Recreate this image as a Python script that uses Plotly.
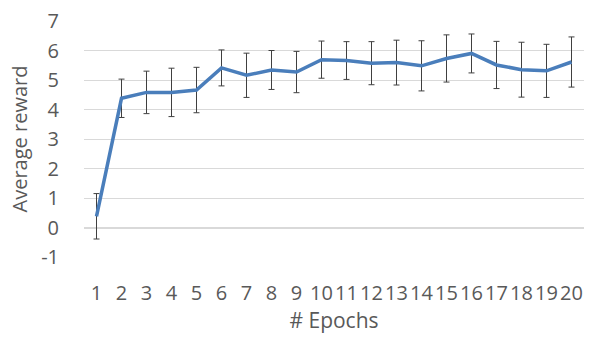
import plotly.graph_objects as go

epochs = list(range(1, 21))
avg_reward = [0.38, 4.38, 4.58, 4.58, 4.66, 5.41, 5.16, 5.34, 5.27, 5.69,
              5.66, 5.57, 5.59, 5.48, 5.73, 5.90, 5.51, 5.35, 5.31, 5.61]
err = [0.77, 0.65, 0.72, 0.82, 0.77, 0.61, 0.75, 0.66, 0.70, 0.63,
       0.64, 0.73, 0.76, 0.85, 0.80, 0.66, 0.80, 0.93, 0.90, 0.85]
y_ticks = [-1, 0, 1, 2, 3, 4, 5, 6, 7]

FONT = "Open Sans"
GREY = "#595959"

fig = go.Figure()
fig.add_trace(go.Scatter(
    x=epochs, y=avg_reward, mode="lines",
    line=dict(color="#4a7ebb", width=3.5),
    error_y=dict(type="data", array=err, visible=True,
                 color="#404040", thickness=1, width=3),
    showlegend=False, hoverinfo="skip",
))

fig.update_layout(
    width=591, height=342,
    margin=dict(l=84, r=7, t=18, b=85),
    paper_bgcolor="white", plot_bgcolor="white",
    font=dict(family=FONT, color=GREY),
    xaxis=dict(
        range=[0.5, 20.5], tickmode="array", tickvals=epochs,
        ticktext=[str(e) for e in epochs], tickangle=0,
        showgrid=False, zeroline=False, showline=False,
        tickfont=dict(size=20, color=GREY), ticks="outside",
        ticklen=18, tickcolor="rgba(0,0,0,0)",
        title=dict(text="# Epochs", font=dict(size=21, color=GREY), standoff=8),
    ),
    yaxis=dict(
        range=[-1, 7], tickmode="array", tickvals=y_ticks,
        ticktext=[str(v) for v in y_ticks],
        showgrid=True, gridcolor="#d9d9d9", gridwidth=1,
        zeroline=True, zerolinecolor="#d9d9d9", zerolinewidth=2,
        showline=False,
        tickfont=dict(size=20, color=GREY), ticks="outside",
        ticklen=20, tickcolor="rgba(0,0,0,0)",
        title=dict(text="Average reward", font=dict(size=20, color=GREY), standoff=8),
    ),
)

fig.write_html("out.html", config={"displayModeBar": False},
               post_script="document.body.style.margin='0';")
